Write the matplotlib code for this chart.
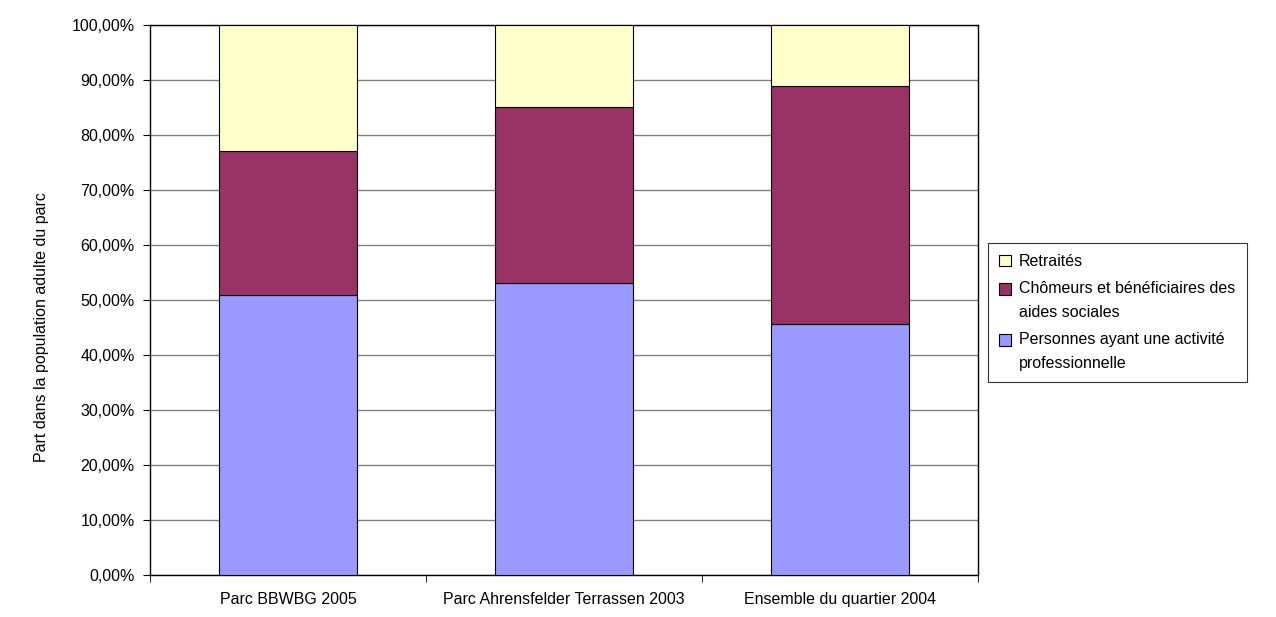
import matplotlib
matplotlib.use("Agg")
import matplotlib.pyplot as plt
import numpy as np
from matplotlib.ticker import FuncFormatter, FixedLocator
from matplotlib.legend_handler import HandlerPatch
from matplotlib.patches import Rectangle

plt.rcParams['font.family'] = ['Liberation Sans', 'DejaVu Sans']

categories = ["Parc BBWBG 2005", "Parc Ahrensfelder Terrassen 2003", "Ensemble du quartier 2004"]
actifs = [51.0, 53.15, 45.6]
chomeurs = [26.1, 31.95, 43.4]
retraites = [22.9, 14.9, 11.0]
yticks = [0, 10, 20, 30, 40, 50, 60, 70, 80, 90, 100]

FS = 11.5
fig = plt.figure(figsize=(12.76, 6.17), dpi=100)
ax = fig.add_axes([150/1276, 1-575/617, (978-150)/1276, 550/617])

x = np.arange(len(categories))
w = 0.5
b1 = ax.bar(x, actifs, w, color='#9999FF', edgecolor='black', linewidth=0.8,
            label='Personnes ayant une activité\nprofessionnelle', zorder=3)
b2 = ax.bar(x, chomeurs, w, bottom=actifs, color='#993366', edgecolor='black', linewidth=0.8,
            label='Chômeurs et bénéficiaires des\naides sociales', zorder=3)
bottom3 = [a + c for a, c in zip(actifs, chomeurs)]
b3 = ax.bar(x, retraites, w, bottom=bottom3, color='#FFFFCC', edgecolor='black', linewidth=0.8,
            label='Retraités', zorder=3)

ax.set_xlim(-0.5, len(categories) - 0.5)
ax.set_ylim(0, 100)
ax.set_yticks(yticks)
ax.yaxis.set_major_formatter(FuncFormatter(lambda v, p: f"{v:.2f}%".replace('.', ',')))
ax.yaxis.grid(True, color='#808080', linewidth=1, zorder=0)
ax.set_xticks(x)
ax.set_xticklabels(categories)
ax.xaxis.set_minor_locator(FixedLocator(np.arange(-0.5, len(categories), 1.0)))
ax.tick_params(axis='x', which='major', length=0, labelsize=FS, pad=12)
ax.tick_params(axis='x', which='minor', length=5, direction='out')
ax.tick_params(axis='y', length=5, direction='out', labelsize=FS, pad=6)
for s in ax.spines.values():
    s.set_color('black')
    s.set_linewidth(1)
ax.set_ylabel('Part dans la population adulte du parc', fontsize=FS)
ax.yaxis.set_label_coords(-0.122, 0.45)


def top_aligned(legend, orig_handle, xdescent, ydescent, width, height, fontsize):
    return Rectangle((-xdescent, -ydescent + 0.75 * fontsize), width, height)


handles = [b3.patches[0], b2.patches[0], b1.patches[0]]
labels = [b3.get_label(), b2.get_label(), b1.get_label()]
leg = fig.legend(handles=handles, labels=labels,
                 handler_map={b2.patches[0]: HandlerPatch(patch_func=top_aligned),
                              b1.patches[0]: HandlerPatch(patch_func=top_aligned)},
                 loc='upper left', bbox_to_anchor=(988/1276, 1-243/617),
                 frameon=True, fancybox=False, edgecolor='black', fontsize=FS,
                 handlelength=0.75, handleheight=0.75, handletextpad=0.5,
                 borderpad=0.7, labelspacing=0.75, borderaxespad=0)
leg.get_frame().set_linewidth(0.8)
for t in leg.get_texts():
    t.set_linespacing(1.75)

fig.savefig('out.png', dpi=100)
